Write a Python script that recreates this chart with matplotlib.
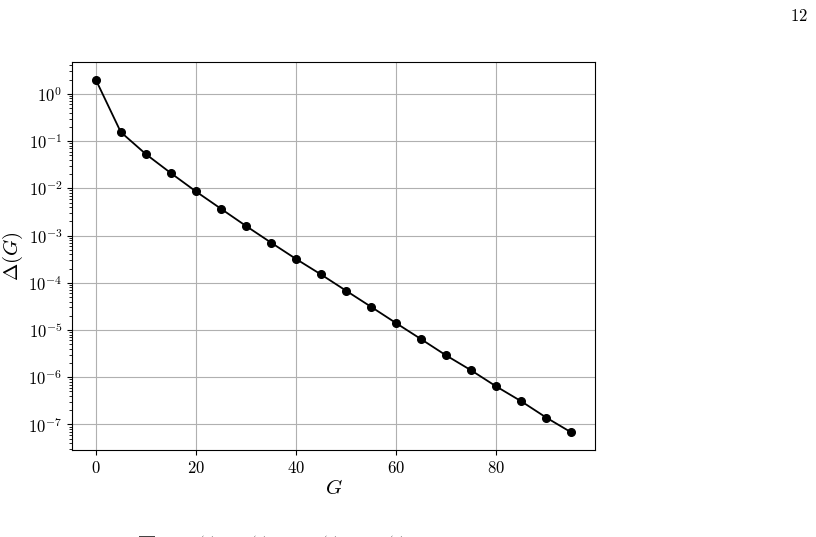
import matplotlib
matplotlib.use("Agg")
import matplotlib.pyplot as plt
from matplotlib.ticker import FuncFormatter, LogLocator

plt.rcParams['mathtext.fontset'] = 'cm'
plt.rcParams['font.family'] = 'serif'
plt.rcParams['font.serif'] = ['cmr10', 'DejaVu Serif']
plt.rcParams['axes.formatter.use_mathtext'] = True

G = [0, 5, 10, 15, 20, 25, 30, 35, 40, 45, 50, 55, 60, 65, 70, 75, 80, 85, 90, 95]
delta = [2.0, 0.155, 0.053, 0.021, 0.0086, 0.0037, 0.0016, 7.1e-4, 3.2e-4, 1.5e-4,
         6.8e-5, 3.1e-5, 1.4e-5, 6.4e-6, 2.9e-6, 1.4e-6, 6.4e-7, 3.1e-7, 1.4e-7, 6.8e-8]
xticks = [0, 20, 40, 60, 80]

fig = plt.figure(figsize=(8.16, 5.37), dpi=100)
ax = fig.add_axes([72/816, 1-450/537, (595-72)/816, (450-62)/537])
ax.plot(G, delta, color='black', marker='o', markersize=5.5, linewidth=1.3)
ax.set_yscale('log')
ax.set_xticks(xticks)
ax.xaxis.set_major_formatter(FuncFormatter(lambda v, p: r'$%g$' % v))
ax.yaxis.set_major_locator(LogLocator(base=10, numticks=20))
ax.grid(True, which='major', color='#b0b0b0', linewidth=0.8)
ax.tick_params(labelsize=12)
ax.set_xlabel(r'$G$', fontsize=15, labelpad=2)
ax.set_ylabel(r'$\Delta(G)$', fontsize=15, labelpad=2)

fig.text(808/816, 1-16/537, r'$12$', ha='right', va='center', fontsize=12)

# clipped line of text at the very bottom of the page
bottom_pieces = [(85, r'$\cdot\ \cdot$'), (138, r'$\overline{\Sigma}$'), (175, r'$\cdot\ u^{(1)}$'),
                 (235, r'$w^{(2)}$'), (300, r'$\cdot\ v^{(1)}$'), (372, r'$w^{(3)}\ \cdot$')]
for px, s in bottom_pieces:
    fig.text(px/816, -0.018, s, ha='left', va='center', fontsize=14, color='#444444')

fig.savefig('out.png', dpi=100)
